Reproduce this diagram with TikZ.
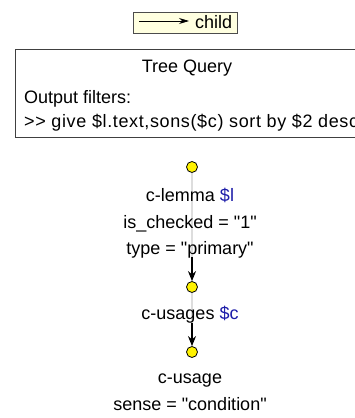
\documentclass[tikz,border=0pt]{standalone}
\usepackage{fontspec}
\setmainfont{Liberation Sans}[Ligatures=TeXOff]
\usetikzlibrary{arrows.meta}
\definecolor{legendbg}{HTML}{FFFFE0}
\definecolor{varblue}{HTML}{1C1CA8}
\definecolor{edgegrey}{HTML}{DDDDDD}
\tikzset{
  txt/.style={inner sep=0pt, font=\fontsize{18}{20}\selectfont, anchor=base},
  dot/.style={circle, draw=black, fill=yellow, line width=0.8pt, minimum size=11pt, inner sep=0pt},
  greyedge/.style={draw=edgegrey, line width=2pt},
  blackarrow/.style={draw=black, line width=1.4pt, -{Stealth[length=10pt,width=8pt]}},
}
\begin{document}
\begin{tikzpicture}[x=1pt,y=-1pt]
\useasboundingbox (0,0) rectangle (355,418);
% legend
\node[draw=black!70, fill=legendbg, line width=0.8pt, minimum width=104pt, minimum height=21pt, inner sep=0pt] (legend) at (185,22.5) {};
\coordinate (la) at (139,21);
\coordinate (lb) at (189,21);
\draw[black, line width=0.8pt, -{Stealth[length=10pt,width=6pt]}] (la) -- (lb);
\node[txt, anchor=base west] (child) at (195,28) {child};
% query box
\draw[black!75, line width=1pt] (370,49) -- (15,49) -- (15,137) -- (370,137);
\node[txt] (title) at (187,72) {Tree Query};
\node[txt, anchor=base west] (of) at (24,103) {Output filters:};
\node[txt, anchor=base west] (give) at (24,127) {\addfontfeatures{LetterSpace=3.5}>> give \$l.text,sons(\$c) sort by \$2 desc};
% tree
\node[dot] (n1) at (192,167) {};
\node[dot] (n2) at (192,287) {};
\node[dot] (n3) at (192,352) {};
\draw[greyedge] (n1) -- (n2);
\draw[greyedge] (n2) -- (n3);
\coordinate (a1) at (192,257);
\coordinate (a2) at (192,323);
\draw[blackarrow] (a1) -- (n2);
\draw[blackarrow] (a2) -- (n3);
\node[txt] (t1) at (190,201) {c-lemma \textcolor{varblue}{\$l}};
\node[txt] (t2) at (190,228) {is\_checked = "1"};
\node[txt] (t3) at (190,254) {type = "primary"};
\node[txt] (t4) at (190,319) {c-usages \textcolor{varblue}{\$c}};
\node[txt] (t5) at (190,383) {c-usage};
\node[txt] (t6) at (190,410) {sense = "condition"};
\end{tikzpicture}
\end{document}
